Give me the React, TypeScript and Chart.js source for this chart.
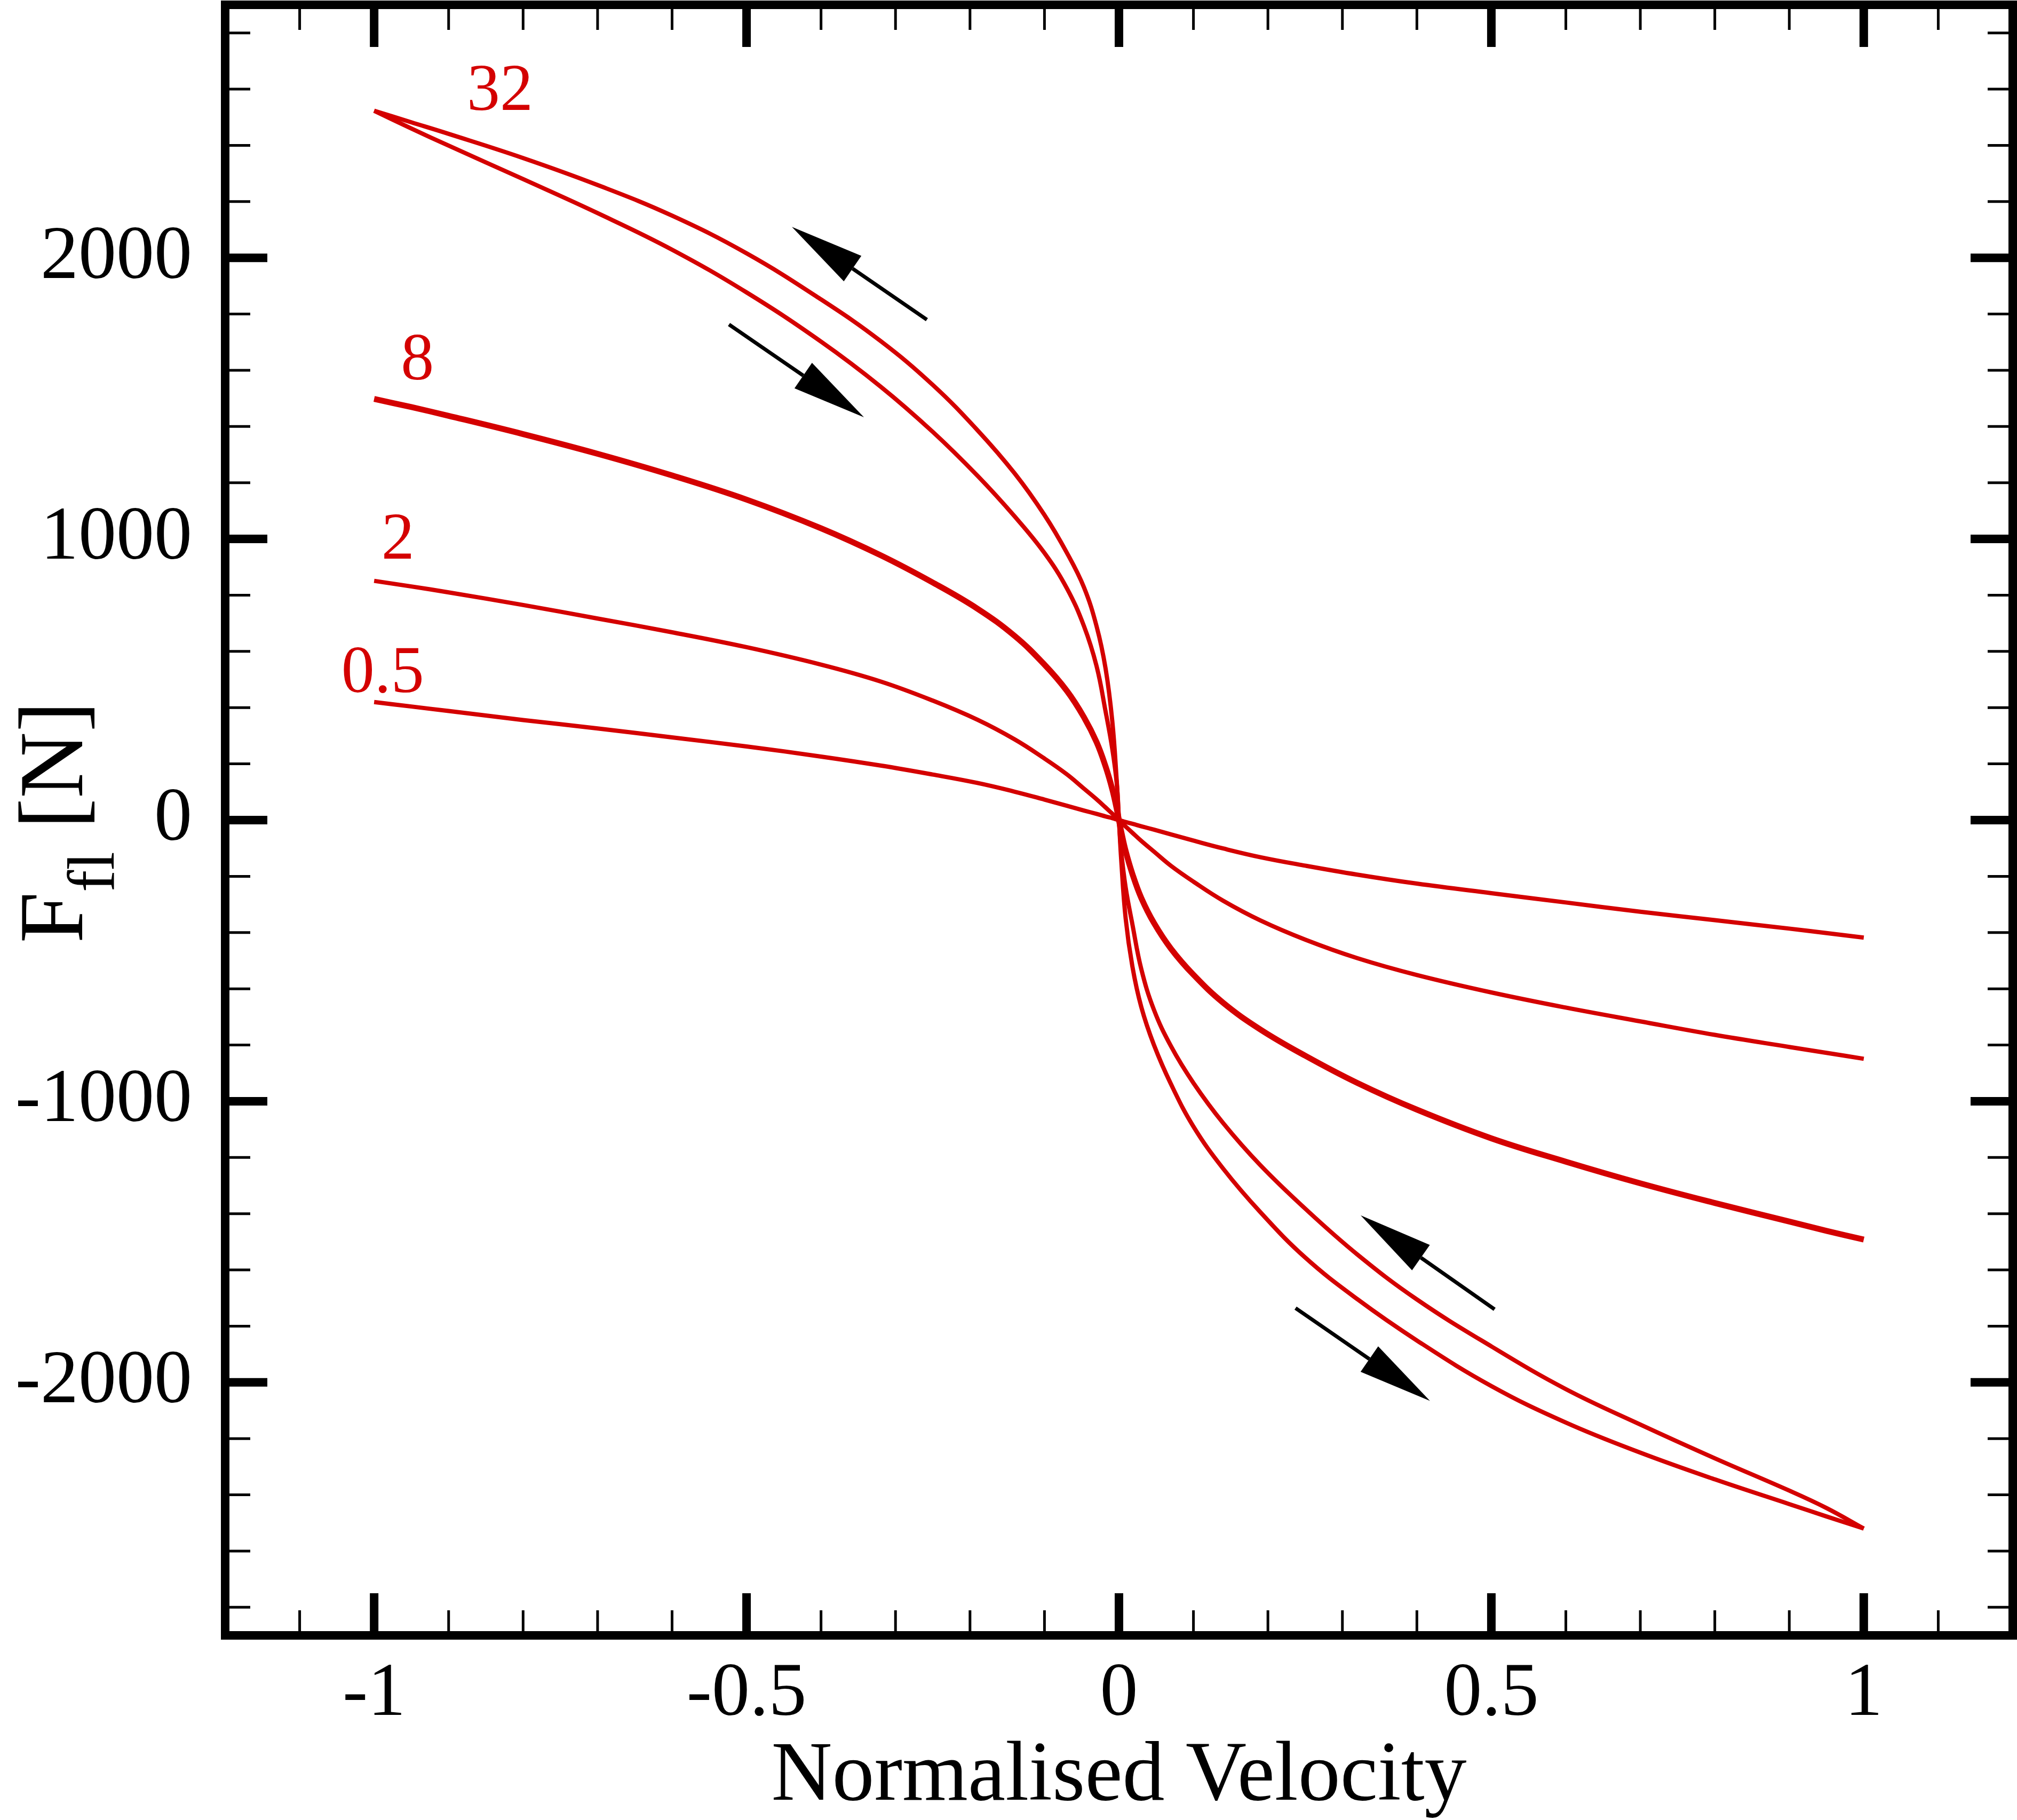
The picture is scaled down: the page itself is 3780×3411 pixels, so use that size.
import { useEffect, useRef } from "react"
import Chart from "chart.js/auto"

// normalised velocity grid (denser near zero where the curves are steep)
const velocity = [-1, -0.95, -0.9, -0.8, -0.7, -0.6, -0.5, -0.4, -0.32, -0.25, -0.19, -0.14, -0.1, -0.07, -0.047, -0.03, -0.018, -0.009, -0.003, 0, 0.003, 0.009, 0.018, 0.03, 0.047, 0.07, 0.1, 0.14, 0.19, 0.25, 0.32, 0.4, 0.5, 0.6, 0.7, 0.8, 0.9, 0.95, 1]

// fluid force [N], one array per frequency
const force05 = [420, 404, 388, 356, 326, 294, 262, 226, 194, 162, 132, 101, 73, 51, 34, 22, 13, 7, 2, 0, -2, -7, -13, -22, -34, -51, -73, -101, -132, -162, -194, -226, -260, -293, -326, -356, -386, -402, -418]
const force2 = [851, 831, 810, 765, 717, 668, 615, 553, 493, 425, 357, 287, 219, 163, 112, 74, 45, 23, 8, 0, -8, -23, -45, -74, -112, -163, -219, -287, -357, -425, -491, -551, -613, -667, -716, -764, -807, -828, -849]
const force8 = [1498, 1469, 1438, 1373, 1303, 1226, 1140, 1038, 942, 845, 752, 655, 553, 460, 366, 277, 191, 110, 40, 0, -40, -110, -191, -277, -366, -458, -550, -650, -745, -838, -935, -1030, -1132, -1215, -1292, -1362, -1428, -1461, -1492]
// the 32 loop: forward branch (down-right arrows) and return branch (up-left arrows)
const force32Forward = [2523, 2460, 2399, 2280, 2159, 2029, 1877, 1702, 1542, 1381, 1225, 1080, 950, 825, 690, 547, 387, 254, 131, 0, -140, -350, -520, -665, -800, -940, -1090, -1240, -1395, -1556, -1704, -1851, -2013, -2143, -2250, -2345, -2433, -2477, -2520]
const force32Return = [2523, 2482, 2441, 2355, 2259, 2150, 2016, 1852, 1704, 1548, 1387, 1233, 1085, 951, 828, 689, 540, 353, 140, 0, -110, -240, -370, -530, -675, -805, -935, -1078, -1228, -1382, -1545, -1705, -1872, -2024, -2150, -2270, -2385, -2447, -2520]

const xTickValues = [-1, -0.5, 0, 0.5, 1]
const yTickValues = [-2000, -1000, 0, 1000, 2000]

const seriesLabels = ["32", "8", "2", "0.5"]
const seriesLabelAt = [[-0.831, 2526], [-0.942, 1567], [-0.968, 930], [-0.9885, 455]]

// direction arrows: [fromV, fromF, toV, toF]
const arrows = [
  [-0.2579, 1780, -0.4391, 2110],
  [-0.5236, 1763, -0.3424, 1433],
  [0.5043, -1740, 0.3245, -1406],
  [0.2371, -1736, 0.4176, -2066],
]

const RED = "#D40000"
const FONT = '"Liberation Serif", "DejaVu Serif", serif'
const W = 3780
const H = 3411

const toPoints = (ys: number[]) => velocity.map((v, i) => ({ x: v, y: ys[i] }))

const decorations = {
  id: "decorations",
  beforeDraw(chart: any) {
    const { ctx } = chart
    ctx.save()
    ctx.fillStyle = "#fff"
    ctx.fillRect(0, 0, chart.width, chart.height)
    ctx.restore()
  },
  afterDatasetsDraw(chart: any) {
    const { ctx, scales: { x, y } } = chart
    ctx.save()
    ctx.fillStyle = "#000"
    ctx.strokeStyle = "#000"
    ctx.lineWidth = 7
    arrows.forEach(([x0, y0, x1, y1]) => {
      const ax = x.getPixelForValue(x0), ay = y.getPixelForValue(y0)
      const bx = x.getPixelForValue(x1), by = y.getPixelForValue(y1)
      const ang = Math.atan2(by - ay, bx - ax)
      const headLen = 138, headHalf = 29
      const cx = bx - headLen * Math.cos(ang), cy = by - headLen * Math.sin(ang)
      ctx.beginPath()
      ctx.moveTo(ax, ay)
      ctx.lineTo(cx, cy)
      ctx.stroke()
      ctx.beginPath()
      ctx.moveTo(bx, by)
      ctx.lineTo(cx + headHalf * Math.sin(ang), cy - headHalf * Math.cos(ang))
      ctx.lineTo(cx - headHalf * Math.sin(ang), cy + headHalf * Math.cos(ang))
      ctx.closePath()
      ctx.fill()
    })

    ctx.fillStyle = RED
    ctx.font = `124px ${FONT}`
    ctx.textAlign = "center"
    ctx.textBaseline = "alphabetic"
    seriesLabels.forEach((txt, i) => {
      ctx.fillText(txt, x.getPixelForValue(seriesLabelAt[i][0]), y.getPixelForValue(seriesLabelAt[i][1]))
    })
    ctx.restore()
  },
  afterDraw(chart: any) {
    const { ctx, chartArea: { left, right, top, bottom }, scales: { x, y } } = chart
    ctx.save()
    ctx.strokeStyle = "#000"
    ctx.lineCap = "butt"

    // inward ticks on all four sides
    const tick = (x0: number, y0: number, x1: number, y1: number, w: number) => {
      ctx.lineWidth = w
      ctx.beginPath()
      ctx.moveTo(x0, y0)
      ctx.lineTo(x1, y1)
      ctx.stroke()
    }
    for (let i = -11; i <= 11; i++) {
      const px = x.getPixelForValue(i / 10)
      const major = i % 5 === 0
      const len = major ? 79 : 47
      const w = major ? 16 : 5
      tick(px, bottom, px, bottom - len, w)
      tick(px, top, px, top + len, w)
    }
    for (let i = -14; i <= 14; i++) {
      const py = y.getPixelForValue(i * 200)
      const major = i % 5 === 0
      const len = major ? 79 : 47
      const w = major ? 16 : 5
      tick(left, py, left + len, py, w)
      tick(right, py, right - len, py, w)
    }

    ctx.lineWidth = 16
    ctx.strokeRect(left, top, right - left, bottom - top)

    // axis titles
    ctx.fillStyle = "#000"
    ctx.textBaseline = "alphabetic"
    ctx.font = `158px ${FONT}`
    ctx.textAlign = "center"
    ctx.fillText("Normalised Velocity", (left + right) / 2, 3373)

    const mainFont = `172px ${FONT}`
    const subFont = `124px ${FONT}`
    ctx.font = mainFont
    const wF = ctx.measureText("F").width
    const wRest = ctx.measureText(" [N]").width
    ctx.font = subFont
    const wSub = ctx.measureText("fl").width
    const total = wF + wSub + wRest
    ctx.translate(154, (top + bottom) / 2 + 4)
    ctx.rotate(-Math.PI / 2)
    ctx.textAlign = "left"
    let cur = -total / 2
    ctx.font = mainFont
    ctx.fillText("F", cur, 0)
    cur += wF
    ctx.font = subFont
    ctx.fillText("fl", cur, 59)
    cur += wSub
    ctx.font = mainFont
    ctx.fillText(" [N]", cur, 0)
    ctx.restore()
  },
}

const FluidForceChart = () => {
  const chartRef = useRef<HTMLCanvasElement>(null)
  const chartInstance = useRef<Chart | null>(null)

  useEffect(() => {
    if (!chartRef.current) return
    const ctx = chartRef.current.getContext("2d")
    if (!ctx) return
    if (chartInstance.current) chartInstance.current.destroy()

    const line = (data: number[], width: number) => ({
      data: toPoints(data),
      showLine: true,
      borderColor: RED,
      backgroundColor: RED,
      borderWidth: width,
      borderJoinStyle: "round" as const,
      pointRadius: 0,
      fill: false,
      tension: 0.4,
    })

    chartInstance.current = new Chart(ctx, {
      type: "scatter",
      data: {
        datasets: [
          { label: "0.5", ...line(force05, 8) },
          { label: "2", ...line(force2, 8) },
          { label: "8", ...line(force8, 11) },
          { label: "32 forward", ...line(force32Forward, 8) },
          { label: "32 return", ...line(force32Return, 8) },
        ],
      },
      options: {
        responsive: false,
        devicePixelRatio: 1,
        animation: false,
        layout: { padding: { top: 9, right: 8, left: 0, bottom: 0 } },
        scales: {
          x: {
            type: "linear",
            min: -1.2,
            max: 1.2,
            afterBuildTicks: (scale: any) => { scale.ticks = xTickValues.map(value => ({ value })) },
            afterFit: (scale: any) => {
              scale.height = H - 3065
              scale.paddingLeft = 0
              scale.paddingRight = 0
            },
            grid: { display: false },
            border: { display: false },
            ticks: {
              color: "#000",
              font: { family: FONT, size: 142 },
              padding: 19,
              maxRotation: 0,
              autoSkip: false,
              callback: (v: any) => String(v),
            },
          },
          y: {
            type: "linear",
            min: -2900,
            max: 2900,
            afterBuildTicks: (scale: any) => { scale.ticks = yTickValues.map(value => ({ value })) },
            afterFit: (scale: any) => {
              scale.width = 422
              scale.paddingTop = 0
              scale.paddingBottom = 0
            },
            grid: { display: false },
            border: { display: false },
            ticks: {
              color: "#000",
              font: { family: FONT, size: 142 },
              padding: 54,
              autoSkip: false,
              callback: (v: any) => String(v),
            },
          },
        },
        plugins: {
          legend: { display: false },
          tooltip: { enabled: false },
          title: { display: false },
        },
      },
      plugins: [decorations],
    })

    return () => {
      if (chartInstance.current) {
        chartInstance.current.destroy()
        chartInstance.current = null
      }
    }
  }, [])

  return (
    <canvas
      ref={chartRef}
      width={W}
      height={H}
      style={{ position: "absolute", left: 0, top: 0, width: W, height: H, display: "block" }}
    ></canvas>
  )
}

export default function App() {
  return <FluidForceChart />
}
